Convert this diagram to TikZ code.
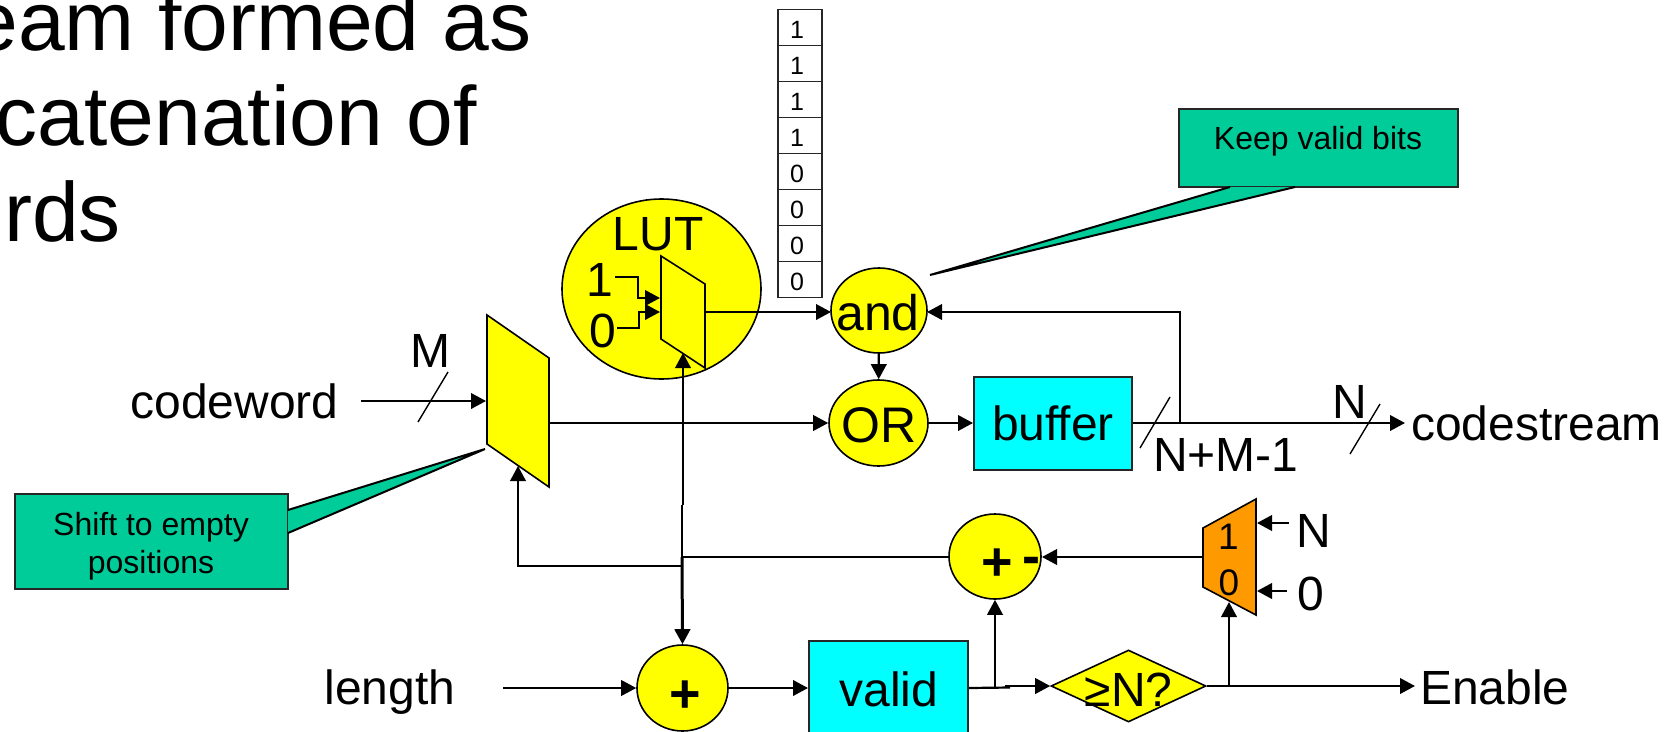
\documentclass[tikz,border=0pt]{standalone}
\usepackage{fontspec}
\setmainfont{Liberation Sans}
\usetikzlibrary{arrows.meta,shapes.geometric}
\definecolor{noteg}{RGB}{0,204,153}
\definecolor{muxo}{RGB}{255,153,0}
\definecolor{yel0}{RGB}{255,255,0}
\definecolor{cyan0}{RGB}{0,255,255}
\tikzset{
  wire/.style={draw=black,line width=2.2pt},
  tipa/.tip={Triangle[length=15pt,width=15.5pt]},
  arr/.style={wire,-tipa},
  slash/.style={draw=black,line width=1.4pt},
  yel/.style={ellipse,draw=black,line width=1.6pt,fill=yel0,inner sep=0pt},
  lab/.style={inner sep=0pt,font=\fontsize{48}{50}\selectfont},
  big/.style={inner sep=0pt,font=\fontsize{50}{52}\selectfont},
  sym/.style={inner sep=0pt,anchor=base,font=\fontsize{54}{56}\selectfont\bfseries},
  boxc/.style={draw=black!85,line width=2pt,fill=cyan0,inner sep=0pt},
  cell/.style={draw=black!85,line width=1.6pt,fill=white,minimum width=44pt,minimum height=36pt,inner sep=0pt},
  celltxt/.style={inner sep=0pt,anchor=base,font=\fontsize{25}{27}\selectfont},
  notebox/.style={draw=black!85,line width=2pt,fill=noteg,inner sep=0pt},
  notetxt/.style={inner sep=0pt,anchor=base,font=\fontsize{32}{34}\selectfont},
  mux/.style={draw=black,line width=1.6pt},
  title/.style={inner sep=0pt,anchor=base east,font=\fontsize{84}{90}\selectfont}
}
\begin{document}
\begin{tikzpicture}[x=1pt,y=-1pt]
\path[use as bounding box] (0,0) rectangle (1665,731);
\clip (0,0) rectangle (1665,731);
% title
\node[title] (t1) at (532,50) {eam formed as};
\node[title] (t2) at (477,145) {catenation of};
\node[title] (t3) at (121,241) {rds};
% callouts
\coordinate (s1) at (288,510); \coordinate (s2) at (485,449); \coordinate (s3) at (288,533);
\coordinate (k1) at (1230,187); \coordinate (k2) at (930,275); \coordinate (k3) at (1295,187);
\node[notebox,minimum width=273pt,minimum height=95pt] (shiftnote) at (151.5,541.5) {};
\node[notebox,minimum width=279pt,minimum height=78pt] (keepnote) at (1318,148) {};
\fill[noteg] (s1) -- (s2) -- (s3) -- cycle;
\fill[noteg] (k1) -- (k2) -- (k3) -- cycle;
\draw[line width=2pt] (s1) -- (s2) -- (s3);
\draw[line width=2pt] (k1) -- (k2) -- (k3);
\node[notetxt] (sn1) at (151,535) {Shift to empty};
\node[notetxt] (sn2) at (151,573) {positions};
\node[notetxt] (kn) at (1318,149) {Keep valid bits};
% LUT
\node[yel,minimum width=199pt,minimum height=180pt] (lut) at (661.5,289) {};
\node[lab,anchor=base] (luttxt) at (658,250) {LUT};
\node[lab,anchor=base] (one) at (600,296) {1};
\node[lab,anchor=base] (zero) at (603,347) {0};
\coordinate (m1) at (661,256); \coordinate (m2) at (705,284); \coordinate (m3) at (705,368); \coordinate (m4) at (661,339);
\draw[mux,fill=yel0] (m1) -- (m2) -- (m3) -- (m4) -- cycle;
\coordinate (lutin1) at (660,298); \coordinate (lutin0) at (660,312); \coordinate (lutout) at (705,312); \coordinate (lutsel) at (683,353);
\coordinate (a1) at (615,277); \coordinate (a2) at (638,277); \coordinate (a3) at (638,298);
\coordinate (b1) at (617,328); \coordinate (b2) at (639,328); \coordinate (b3) at (639,312);
\draw[arr] (a1) -- (a2) -- (a3) -- (lutin1);
\draw[arr] (b1) -- (b2) -- (b3) -- (lutin0);
% table
\foreach \i/\v in {0/1,1/1,2/1,3/1,4/0,5/0,6/0,7/0}{
  \node[cell] (c\i) at (800,{27.5+36*\i}) {};
  \node[celltxt] (d\i) at (797,{38+36*\i}) {\v};
}
% and / OR
\node[yel,minimum width=96pt,minimum height=85pt] (and) at (879,310.5) {};
\node[big,anchor=base] (andt) at (878,330) {and};
\node[yel,minimum width=99pt,minimum height=86pt] (or) at (878.5,423) {};
\node[big,anchor=base] (ort) at (879,442) {OR};
\node[boxc,minimum width=158pt,minimum height=93pt] (buffer) at (1053,423) {};
\node[lab,anchor=base] (buft) at (1053,440) {buffer};
\coordinate (andin) at (831,312); \coordinate (andback) at (927,312);
\draw[arr] (lutout) -- (andin);
\draw[arr] (and) -- (or);
% shift mux
\coordinate (p1) at (487,315); \coordinate (p2) at (549,358); \coordinate (p3) at (549,487); \coordinate (p4) at (487,444);
\draw[mux,fill=yel0] (p1) -- (p2) -- (p3) -- (p4) -- cycle;
\node[lab,anchor=base] (codeword) at (234.5,418) {codeword};
\node[lab,anchor=base] (mlab) at (430.5,367) {M};
\coordinate (cwstart) at (361,401); \coordinate (cwend) at (486,401);
\draw[arr] (cwstart) -- (cwend);
\coordinate (ms1) at (448,372); \coordinate (ms2) at (418,422);
\draw[slash] (ms1) -- (ms2);
\coordinate (shout) at (549,423);
\draw[arr] (shout) -- (or.west);
\draw[arr] (or.east) -- (buffer.west);
% output
\coordinate (outend) at (1405,423); \coordinate (tap) at (1180,423); \coordinate (tapup) at (1180,312);
\draw[arr] (buffer.east) -- (outend);
\draw[arr] (tap) -- (tapup) -- (andback);
\coordinate (os1) at (1170,397); \coordinate (os2) at (1140,448);
\coordinate (os3) at (1380,404); \coordinate (os4) at (1350,454);
\draw[slash] (os1) -- (os2);
\draw[slash] (os3) -- (os4);
\node[lab,anchor=base] (nlab) at (1349.5,418) {N};
\node[lab,anchor=base west] (nm) at (1153,471) {N+M-1};
\node[lab,anchor=base west] (codestream) at (1411,440) {codestream};
% bottom row
\node[yel,minimum width=91pt,minimum height=86pt] (add) at (682.5,688) {};
\node[sym] (addt) at (685,712) {+};
\node[boxc,minimum width=159pt,minimum height=94pt] (valid) at (888.5,688) {};
\node[lab,anchor=base] (validt) at (889,706) {valid};
\node[diamond,draw=black,line width=1.6pt,fill=yel0,inner sep=0pt,minimum width=155pt,minimum height=72pt] (ge) at (1128.5,686) {};
\node[lab,anchor=base] (get) at (1128.5,706) {≥N?};
\node[yel,minimum width=92pt,minimum height=85pt] (sub) at (995,556.5) {};
\node[sym] (subp) at (997.5,580) {+};
\node[sym] (subm) at (1031,574) {-};
\node[lab,anchor=base] (length) at (390,704) {length};
\node[lab,anchor=base west] (enable) at (1420,704) {Enable};
\coordinate (lenstart) at (503,688);
\draw[arr] (lenstart) -- (add.west);
\draw[arr] (add.east) -- (valid.west);
\coordinate (vj1) at (1010,687.5); \coordinate (vj2) at (1005,686);
\draw[wire] (valid.east) -- (vj1);
\draw[arr] (vj2) -- (ge.west);
\coordinate (vt) at (995,688);
\draw[arr] (vt) -- (sub.south);
\coordinate (entap) at (1229,686); \coordinate (ensel) at (1229,602); \coordinate (enend) at (1415,686);
\draw[arr] (ge.east) -- (enend);
\draw[arr] (entap) -- (ensel);
% orange mux
\coordinate (q1) at (1203,528); \coordinate (q2) at (1256,499); \coordinate (q3) at (1256,615); \coordinate (q4) at (1203,587);
\draw[mux,fill=muxo] (q1) -- (q2) -- (q3) -- (q4) -- cycle;
\node[inner sep=0pt,anchor=base,font=\fontsize{37}{40}\selectfont] (mo1) at (1228.5,549) {1};
\node[inner sep=0pt,anchor=base,font=\fontsize{37}{40}\selectfont] (mo0) at (1229,595) {0};
\node[lab,anchor=base] (nin) at (1314,547) {N};
\node[lab,anchor=base] (zin) at (1311,610) {0};
\coordinate (n1) at (1289,523); \coordinate (n2) at (1257,523);
\coordinate (z1) at (1287,591); \coordinate (z2) at (1257,591);
\draw[arr] (n1) -- (n2);
\draw[arr] (z1) -- (z2);
\coordinate (mout) at (1203,557); \coordinate (subin) at (1042,557);
\draw[arr] (mout) -- (subin);
% feedback
\coordinate (fbr) at (949,557); \coordinate (fbj) at (682,557); \coordinate (fbk) at (682,566); \coordinate (fbl) at (518,566); \coordinate (fbm) at (518,466);
\coordinate (upj) at (683,505); \coordinate (upk) at (682,505);
\draw[wire] (fbr) -- (fbj);
\draw[arr] (fbk) -- (fbl) -- (fbm);
\draw[arr] (upj) -- (lutsel);
\draw[wire] (upk) -- (fbj);
\draw[draw=black,line width=3pt,-tipa] (fbj) -- (add.north);
\end{tikzpicture}
\end{document}
